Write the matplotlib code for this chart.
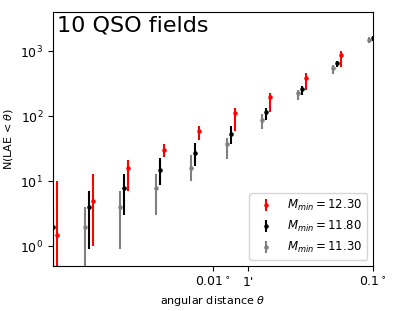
import matplotlib
matplotlib.use('Agg')
import matplotlib.pyplot as plt
import numpy as np

# angular distance bins (degrees) and cumulative counts for each halo mass cut
theta = [0.001, 0.00167, 0.00278, 0.00464, 0.00774, 0.0129, 0.0215, 0.0359, 0.0599, 0.1]

m_labels = ['12.30', '11.80', '11.30']
m_colors = ['red', 'black', 'gray']

n_red = [1.5, 5, 16, 30, 60, 111, 195, 384, 873, 2100]
lo_red = [0.1, 1, 7, 24, 43, 60, 118, 253, 578, 1700]
hi_red = [10, 13, 21, 38, 71, 133, 226, 468, 1019, 2500]

n_black = [2, 4, 8, 15, 27, 53, 115, 262, 650, 1580]
lo_black = [0.1, 0.9, 3, 8.8, 17.5, 37, 88, 212, 565, 1450]
hi_black = [4, 7, 13, 23, 39, 71, 133, 291, 717, 1700]

n_gray = [1, 2, 4, 8, 16, 37, 88, 226, 548, 1483]
lo_gray = [0.1, 0.1, 0.9, 3, 10, 22, 63, 178, 455, 1319]
hi_gray = [2, 4, 7, 13, 25, 46, 107, 253, 612, 1640]

series = [(n_red, lo_red, hi_red), (n_black, lo_black, hi_black), (n_gray, lo_gray, hi_gray)]
shifts = [1.06, 1.0, 1 / 1.06]

plt.rcParams['font.size'] = 8
fig = plt.figure(figsize=(3.95, 3.11), dpi=100)
ax = fig.add_axes([0.134, 0.145, 0.81, 0.816])

for (n, lo, hi), lab, col, sh in zip(series, m_labels, m_colors, shifts):
    n = np.array(n)
    yerr = [n - np.array(lo), np.array(hi) - n]
    ax.errorbar(np.array(theta) * sh, n, yerr=yerr, fmt='.', ms=4.5, color=col,
                label=r'$M_{min} = %s$' % lab)

ax.set_xscale('log')
ax.set_yscale('log')
ax.set_xlim(0.001, 0.1)
ax.set_ylim(0.5, 4000)
ax.minorticks_off()
ax.set_xticks([0.01, 1 / 60., 0.1])
ax.set_xticklabels([r'0.01$^\circ$', "1'", r'0.1$^\circ$'])
ax.set_yticks([1, 10, 100, 1000])
ax.tick_params(labelsize=9)

ax.set_xlabel(r'angular distance $\theta$')
ax.set_ylabel(r'N(LAE < $\theta$)')
ax.text(0.012, 0.985, '10 QSO fields', transform=ax.transAxes, fontsize=16,
        ha='left', va='top')
ax.legend(loc='lower right', fontsize=8.5)

plt.savefig('out.png', dpi=100)
